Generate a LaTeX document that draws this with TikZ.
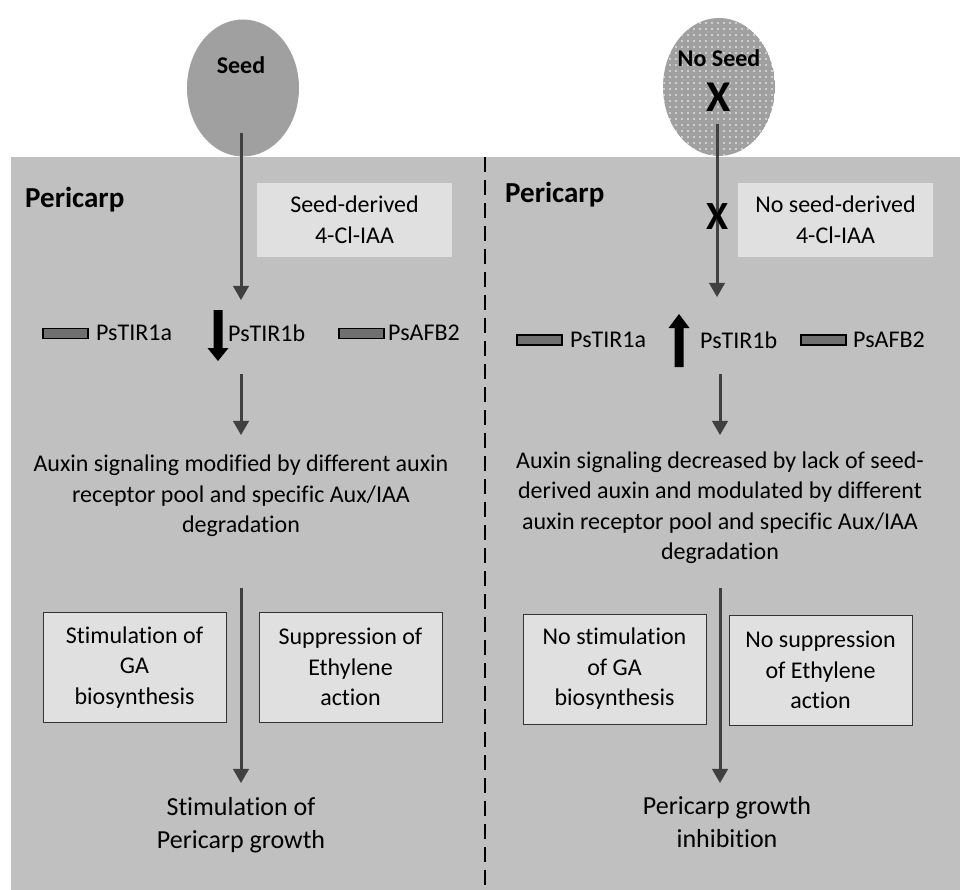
\documentclass[tikz,border=0pt]{standalone}
\usepackage{fontspec}
\setmainfont{Carlito}[Ligatures={NoCommon,NoRare,NoContextual}]
\usepackage{tikz}
\usetikzlibrary{arrows}
\usetikzlibrary{positioning}
\usetikzlibrary{shapes.geometric}

\definecolor{panelgray}{RGB}{192,192,192}
\definecolor{seedgray}{RGB}{160,160,160}
\definecolor{boxgray}{RGB}{224,224,224}
\definecolor{arrowgray}{RGB}{64,64,64}
\definecolor{genegray}{RGB}{112,112,112}

\tikzset{
  txt/.style={align=center, font=\fontsize{24}{30.5}\selectfont},
  result/.style={align=center, font=\fontsize{26}{33}\selectfont},
  bold/.style={font=\fontsize{24}{28}\selectfont\bfseries},
  title/.style={font=\fontsize{29}{30}\selectfont\bfseries, anchor=west, inner sep=0},
  bigx/.style={font=\fontsize{44}{44}\selectfont\bfseries, inner sep=0},
  flow/.style={->, >=triangle 60, line width=3, draw=arrowgray},
  infobox/.style={txt, fill=boxgray, minimum width=195, minimum height=74, inner sep=0},
  effectbox/.style={txt, fill=boxgray, draw=black!80, line width=1, minimum width=183, minimum height=110, inner sep=0},
  gene/.style={fill=genegray, draw=black, line width=1.2, minimum width=45, minimum height=10, inner sep=0},
  genename/.style={txt, anchor=west, inner sep=0},
}

\begin{document}
\begin{tikzpicture}[x=1pt, y=-1pt]
\useasboundingbox (0,0) rectangle (960,890);
\fill[white] (0,0) rectangle (960,890);
\fill[panelgray] (11,157) rectangle (960,890);
\draw[black, line width=2, dash pattern=on 15 off 8] (485,157) -- (485,890);

% seed side
\node [ellipse, fill=seedgray, minimum width=112, minimum height=137, inner sep=0] (seed) at (243,88) {};
\node [bold] (seedlbl) at (241,65) {Seed};
\node [title] (pericarpL) at (25,200) {Pericarp};
\node [infobox] (derivedL) at (354.5,220) {Seed-derived\\4-Cl-IAA};

\node [gene] (tiraL) at (65.5,333.5) {};
\node [genename] (tiraLtxt) at (96,333) {PsTIR1a};
\coordinate (downL) at (218,310);
\fill (downL) ++(-4.5,0) -- ++(9,0) -- ++(0,38) -- ++(6,0) -- ++(-10.5,13) -- ++(-10.5,-13) -- ++(6,0) -- cycle;
\node [genename] (tirbLtxt) at (228,333) {PsTIR1b};
\node [gene] (afbL) at (361.5,333.5) {};
\node [genename] (afbLtxt) at (388,333) {PsAFB2};

\node [txt] (auxinL) at (241,496) {Auxin signaling modified by different auxin\\receptor pool and specific Aux/IAA\\degradation};
\node [effectbox] (gaL) at (134.5,667.5) {Stimulation of\\GA\\biosynthesis};
\node [effectbox] (ethL) at (350.5,667) {Suppression of\\Ethylene\\action};
\node [result] (growthL) at (241,825) {Stimulation of\\Pericarp growth};

\coordinate (L1) at (241,133); \coordinate (L2) at (241,300);
\coordinate (L3) at (241,374); \coordinate (L4) at (241,435);
\coordinate (L5) at (241,588); \coordinate (L6) at (241,783);
\draw [flow] (L1) -- (L2);
\draw [flow] (L3) -- (L4);
\draw [flow] (L5) -- (L6);

% no seed side
\begin{scope}
\clip (719,87) ellipse (56 and 69);
\fill[seedgray] (719,87) ellipse (56 and 69);
\foreach \i in {0,...,20}
  \foreach \j in {0,...,24}
    \fill[white] (658+6*\i, 17+6*\j) circle (0.9);
\end{scope}
\node [ellipse, minimum width=112, minimum height=138, inner sep=0] (noseed) at (719,87) {};
\node [bold] (noseedlbl) at (719,58) {No Seed};
\node [bigx] (noseedx) at (719,97) {X};
\node [title] (pericarpR) at (505,195) {Pericarp};
\node [infobox] (derivedR) at (835.5,220) {No seed-derived\\4-Cl-IAA};

\coordinate (R1) at (717,124); \coordinate (R2) at (717,297);
\coordinate (R3) at (720,374); \coordinate (R4) at (720,435);
\coordinate (R5) at (720,588); \coordinate (R6) at (720,783);
\draw [flow] (R1) -- (R2);
\node [font=\fontsize{40}{40}\selectfont\bfseries, inner sep=0] (blockx) at (718,217) {X};

\node [gene] (tiraR) at (539.5,340) {};
\node [genename] (tiraRtxt) at (570,340) {PsTIR1a};
\coordinate (upR) at (679,367);
\fill (upR) ++(-4.5,0) -- ++(9,0) -- ++(0,-39) -- ++(6,0) -- ++(-10.5,-14) -- ++(-10.5,14) -- ++(6,0) -- cycle;
\node [genename] (tirbRtxt) at (700,340) {PsTIR1b};
\node [gene] (afbR) at (823.5,340) {};
\node [genename] (afbRtxt) at (853,340) {PsAFB2};

\node [txt] (auxinR) at (720,507.5) {Auxin signaling decreased by lack of seed-\\derived auxin and modulated by different\\auxin receptor pool and specific Aux/IAA\\degradation};
\node [effectbox] (gaR) at (614.5,669) {No stimulation\\of GA\\biosynthesis};
\node [effectbox] (ethR) at (820.5,670) {No suppression\\of Ethylene\\action};
\node [result] (growthR) at (727,822) {Pericarp growth\\inhibition};

\draw [flow] (R3) -- (R4);
\draw [flow] (R5) -- (R6);

\end{tikzpicture}
\end{document}
